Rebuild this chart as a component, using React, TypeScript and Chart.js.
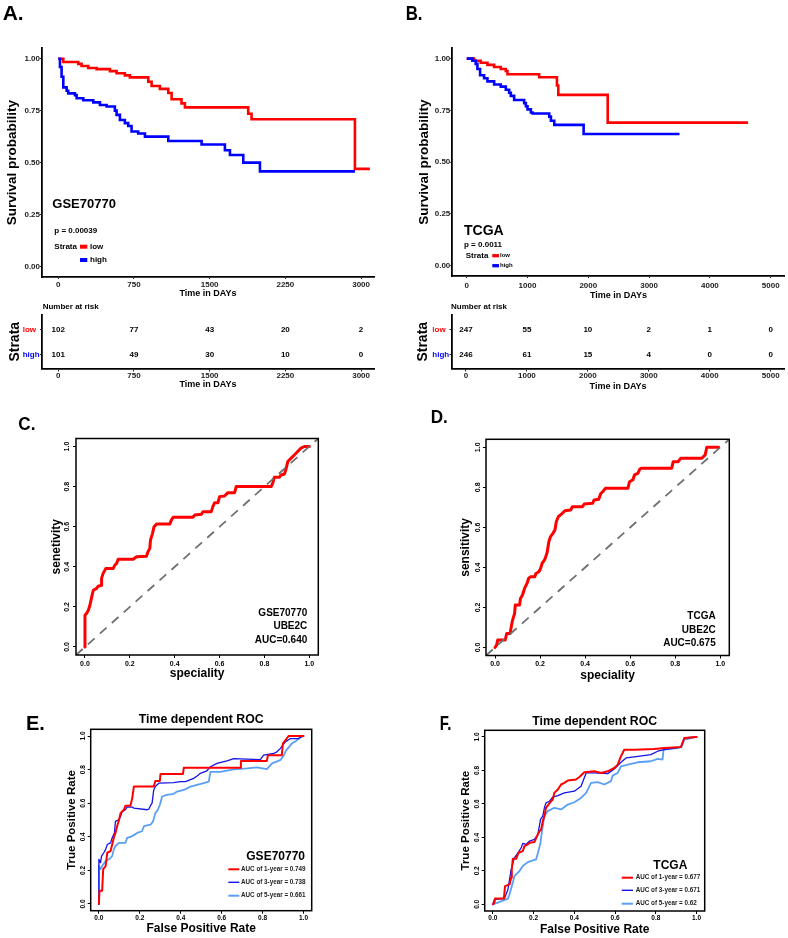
import React, { useEffect, useRef } from 'react';
import { Chart, registerables } from 'chart.js';

Chart.register(...registerables);

const PAGE_W = 788;
const PAGE_H = 938;
const FF = '"Liberation Sans", Arial, Helvetica, sans-serif';
const RED = '#FF0000';
const BLUE = '#0000FF';
const ROC_BLUE = '#1414E8';
const LIGHT_BLUE = '#5AA0F2';
const DIAG_GRAY = '#707070';

// ---------------- Panel A : GSE70770 Kaplan-Meier ----------------
const A_X_TICKS = [0, 750, 1500, 2250, 3000];
const A_LOW_T = [0, 50, 198, 231, 297, 380, 512, 578, 660, 710, 892, 925, 1007, 1090, 1123, 1221, 1255, 1882, 1915, 2939, 3087];
const A_LOW_S = [1.0, 0.984, 0.975, 0.965, 0.955, 0.95, 0.94, 0.93, 0.92, 0.91, 0.889, 0.869, 0.855, 0.835, 0.805, 0.785, 0.766, 0.735, 0.709, 0.47, 0.47];
const A_HIGH_T = [0, 17, 33, 50, 83, 99, 165, 182, 248, 347, 413, 479, 561, 578, 611, 660, 693, 726, 792, 859, 1090, 1420, 1651, 1701, 1833, 1998, 2939];
const A_HIGH_S = [1.0, 0.96, 0.913, 0.862, 0.846, 0.833, 0.825, 0.81, 0.8, 0.79, 0.777, 0.77, 0.75, 0.73, 0.705, 0.69, 0.676, 0.65, 0.64, 0.625, 0.604, 0.587, 0.56, 0.537, 0.5, 0.458, 0.458];
const A_RISK_LOW = [102, 77, 43, 20, 2];
const A_RISK_HIGH = [101, 49, 30, 10, 0];

// ---------------- Panel B : TCGA Kaplan-Meier ----------------
const B_X_TICKS = [0, 1000, 2000, 3000, 4000, 5000];
const B_LOW_T = [0, 121, 231, 341, 451, 560, 643, 670, 1192, 1484, 1506, 2319, 4627];
const B_LOW_S = [1.0, 0.99, 0.98, 0.97, 0.96, 0.95, 0.94, 0.925, 0.91, 0.87, 0.825, 0.691, 0.691];
const B_HIGH_T = [0, 93, 148, 176, 220, 286, 341, 451, 560, 643, 698, 725, 780, 945, 973, 1000, 1055, 1083, 1357, 1385, 1440, 1923, 3500];
const B_HIGH_S = [1.0, 0.99, 0.975, 0.95, 0.92, 0.905, 0.89, 0.875, 0.865, 0.85, 0.835, 0.82, 0.8, 0.785, 0.77, 0.755, 0.74, 0.735, 0.72, 0.7, 0.68, 0.636, 0.636];
const B_RISK_LOW = [247, 55, 10, 2, 1, 0];
const B_RISK_HIGH = [246, 61, 15, 4, 0, 0];

const KM_Y_TICKS = [0, 0.25, 0.5, 0.75, 1];
const ROC_TICKS = [0, 0.2, 0.4, 0.6, 0.8, 1];
const ROW_LOW = 1;
const ROW_HIGH = 0;

// ---------------- Panel C : GSE70770 ROC ----------------
const C_ROC = [[0, 0], [0, 0.158], [0.007, 0.167], [0.015, 0.183], [0.022, 0.208], [0.03, 0.25], [0.037, 0.283], [0.052, 0.292], [0.059, 0.303], [0.074, 0.308], [0.074, 0.342], [0.081, 0.367], [0.093, 0.392], [0.126, 0.392], [0.133, 0.408], [0.141, 0.417], [0.148, 0.438], [0.215, 0.438], [0.23, 0.45], [0.274, 0.453], [0.281, 0.475], [0.289, 0.492], [0.292, 0.533], [0.301, 0.567], [0.308, 0.6], [0.319, 0.613], [0.378, 0.613], [0.385, 0.633], [0.393, 0.647], [0.481, 0.647], [0.489, 0.658], [0.519, 0.662], [0.526, 0.675], [0.563, 0.675], [0.57, 0.7], [0.578, 0.72], [0.593, 0.72], [0.6, 0.75], [0.622, 0.753], [0.637, 0.77], [0.667, 0.77], [0.674, 0.8], [0.83, 0.8], [0.837, 0.817], [0.844, 0.847], [0.867, 0.847], [0.874, 0.858], [0.889, 0.863], [0.896, 0.887], [0.904, 0.925], [0.919, 0.942], [0.933, 0.958], [0.948, 0.975], [0.963, 0.992], [0.978, 1], [1, 1]];

// ---------------- Panel D : TCGA ROC ----------------
const D_ROC = [[0, 0], [0.007, 0.012], [0.012, 0.037], [0.045, 0.037], [0.052, 0.07], [0.067, 0.07], [0.072, 0.103], [0.078, 0.137], [0.087, 0.17], [0.09, 0.212], [0.109, 0.212], [0.113, 0.245], [0.122, 0.262], [0.131, 0.295], [0.142, 0.32], [0.149, 0.345], [0.157, 0.353], [0.176, 0.353], [0.182, 0.37], [0.194, 0.378], [0.201, 0.39], [0.209, 0.42], [0.221, 0.44], [0.231, 0.473], [0.239, 0.528], [0.246, 0.553], [0.257, 0.57], [0.266, 0.587], [0.272, 0.628], [0.281, 0.653], [0.296, 0.667], [0.31, 0.683], [0.336, 0.687], [0.343, 0.703], [0.388, 0.703], [0.396, 0.717], [0.433, 0.72], [0.44, 0.737], [0.46, 0.74], [0.47, 0.77], [0.478, 0.778], [0.49, 0.795], [0.59, 0.795], [0.597, 0.828], [0.612, 0.837], [0.619, 0.862], [0.634, 0.87], [0.642, 0.89], [0.649, 0.895], [0.784, 0.895], [0.791, 0.928], [0.813, 0.928], [0.824, 0.945], [0.918, 0.945], [0.933, 0.962], [0.94, 1], [0.993, 1]];

// ---------------- Panel E : GSE70770 time dependent ROC ----------------
const E_ROC_1Y = [[0, 0], [0.003, 0.079], [0.016, 0.079], [0.021, 0.207], [0.033, 0.226], [0.037, 0.266], [0.041, 0.305], [0.057, 0.315], [0.065, 0.354], [0.073, 0.394], [0.081, 0.423], [0.089, 0.463], [0.098, 0.498], [0.106, 0.541], [0.122, 0.561], [0.13, 0.585], [0.154, 0.585], [0.163, 0.63], [0.171, 0.699], [0.268, 0.699], [0.276, 0.732], [0.298, 0.732], [0.301, 0.774], [0.411, 0.774], [0.415, 0.811], [0.691, 0.811], [0.694, 0.852], [0.821, 0.852], [0.826, 0.886], [0.894, 0.886], [0.899, 0.955], [0.927, 1], [1, 1]];
const E_ROC_3Y = [[0, 0], [0, 0.266], [0.008, 0.246], [0.013, 0.285], [0.024, 0.305], [0.033, 0.325], [0.041, 0.354], [0.057, 0.364], [0.065, 0.394], [0.076, 0.423], [0.081, 0.492], [0.098, 0.502], [0.106, 0.522], [0.114, 0.551], [0.13, 0.561], [0.138, 0.577], [0.163, 0.577], [0.171, 0.571], [0.236, 0.561], [0.244, 0.565], [0.252, 0.585], [0.26, 0.6], [0.268, 0.679], [0.276, 0.699], [0.293, 0.719], [0.366, 0.722], [0.398, 0.728], [0.423, 0.728], [0.463, 0.748], [0.48, 0.762], [0.496, 0.778], [0.528, 0.793], [0.545, 0.817], [0.577, 0.837], [0.626, 0.852], [0.659, 0.866], [0.789, 0.86], [0.805, 0.886], [0.854, 0.896], [0.87, 0.906], [0.886, 0.925], [0.911, 0.965], [0.935, 0.984], [0.976, 0.984], [0.992, 0.998]];
const E_ROC_5Y = [[0, 0], [0, 0.226], [0.008, 0.207], [0.016, 0.226], [0.033, 0.256], [0.049, 0.266], [0.065, 0.285], [0.073, 0.325], [0.081, 0.344], [0.098, 0.364], [0.13, 0.364], [0.138, 0.394], [0.163, 0.404], [0.187, 0.423], [0.211, 0.433], [0.22, 0.463], [0.252, 0.472], [0.265, 0.492], [0.276, 0.541], [0.288, 0.561], [0.298, 0.591], [0.309, 0.64], [0.333, 0.65], [0.366, 0.656], [0.382, 0.669], [0.415, 0.679], [0.447, 0.699], [0.48, 0.709], [0.512, 0.719], [0.537, 0.728], [0.545, 0.787], [0.593, 0.787], [0.659, 0.801], [0.724, 0.807], [0.772, 0.813], [0.821, 0.803], [0.846, 0.837], [0.886, 0.856], [0.902, 0.88], [0.915, 0.915], [0.943, 0.955], [0.967, 0.974], [0.984, 0.994], [1, 1]];
const E_AUC = ['0.749', '0.738', '0.661'];

// ---------------- Panel F : TCGA time dependent ROC ----------------
const F_ROC_1Y = [[0, 0], [0.008, 0.01], [0.011, 0.034], [0.054, 0.034], [0.06, 0.109], [0.082, 0.119], [0.09, 0.159], [0.093, 0.209], [0.098, 0.272], [0.114, 0.272], [0.126, 0.308], [0.147, 0.318], [0.155, 0.348], [0.172, 0.358], [0.18, 0.368], [0.204, 0.372], [0.217, 0.408], [0.229, 0.437], [0.237, 0.447], [0.245, 0.497], [0.253, 0.527], [0.261, 0.577], [0.273, 0.596], [0.286, 0.616], [0.294, 0.626], [0.302, 0.666], [0.319, 0.686], [0.335, 0.716], [0.351, 0.726], [0.368, 0.74], [0.408, 0.746], [0.425, 0.761], [0.449, 0.789], [0.498, 0.795], [0.531, 0.785], [0.564, 0.795], [0.596, 0.815], [0.613, 0.835], [0.629, 0.885], [0.645, 0.924], [0.694, 0.924], [0.792, 0.928], [0.842, 0.934], [0.923, 0.94], [0.94, 0.994], [1, 1]];
const F_ROC_3Y = [[0, 0], [0.008, 0.03], [0.057, 0.034], [0.074, 0.089], [0.09, 0.209], [0.106, 0.278], [0.126, 0.312], [0.139, 0.338], [0.147, 0.364], [0.163, 0.358], [0.18, 0.378], [0.204, 0.388], [0.221, 0.417], [0.234, 0.507], [0.245, 0.527], [0.253, 0.577], [0.261, 0.606], [0.278, 0.616], [0.294, 0.64], [0.319, 0.65], [0.351, 0.666], [0.4, 0.676], [0.433, 0.706], [0.458, 0.785], [0.498, 0.785], [0.564, 0.781], [0.596, 0.809], [0.629, 0.849], [0.654, 0.875], [0.694, 0.881], [0.776, 0.895], [0.809, 0.915], [0.842, 0.924], [0.891, 0.934], [0.923, 0.94], [0.94, 0.994], [1, 1]];
const F_ROC_5Y = [[0, 0], [0.025, 0.01], [0.074, 0.034], [0.082, 0.06], [0.098, 0.129], [0.106, 0.169], [0.131, 0.199], [0.147, 0.229], [0.172, 0.252], [0.212, 0.268], [0.224, 0.318], [0.234, 0.368], [0.24, 0.427], [0.253, 0.527], [0.27, 0.557], [0.302, 0.577], [0.335, 0.567], [0.368, 0.596], [0.4, 0.61], [0.433, 0.636], [0.458, 0.666], [0.482, 0.726], [0.515, 0.73], [0.547, 0.716], [0.58, 0.736], [0.588, 0.769], [0.613, 0.785], [0.629, 0.825], [0.662, 0.835], [0.711, 0.849], [0.776, 0.855], [0.809, 0.869], [0.833, 0.865], [0.838, 0.924], [0.907, 0.934], [0.926, 0.94], [0.94, 0.984], [1, 1]];
const F_AUC = ['0.677', '0.671', '0.62'];

const ROC_MIN = -0.04;
const ROC_MAX = 1.04;
const KM_Y_MIN = -0.05;
const KM_Y_MAX = 1.05;

// ---------------- helpers ----------------
type Box = { l: number; t: number; r: number; b: number };
type Txt = { t: string; x: number; y: number; size: number; bold?: boolean; color?: string; align?: CanvasTextAlign; base?: CanvasTextBaseline; sx?: number };
type Seg = { x1: number; x2: number; y: number; color: string; w: number };

const tickFont = (size: number, bold = true) => ({ family: FF, size, weight: bold ? 'bold' : 'normal', lineHeight: 1 });
const titleFont = (size: number) => ({ family: FF, size, weight: 'bold', lineHeight: 1.2 });
const fixedTicks = (values: number[]) => (scale: any) => {
  scale.ticks = values.map((v) => ({ value: v }));
};

function decorPlugin(id: string, texts: Txt[], segs: Seg[] = []) {
  return {
    id,
    afterDraw(chart: any) {
      const ctx = chart.ctx;
      ctx.save();
      for (const s of segs) {
        ctx.beginPath();
        ctx.strokeStyle = s.color;
        ctx.lineWidth = s.w;
        ctx.lineCap = 'butt';
        ctx.moveTo(s.x1, s.y);
        ctx.lineTo(s.x2, s.y);
        ctx.stroke();
      }
      for (const it of texts) {
        ctx.save();
        ctx.font = `${it.bold === false ? 'normal' : 'bold'} ${it.size}px ${FF}`;
        ctx.fillStyle = it.color || '#000';
        ctx.textAlign = it.align || 'left';
        ctx.textBaseline = it.base || 'middle';
        ctx.translate(it.x, it.y);
        if (it.sx) ctx.scale(it.sx, 1);
        ctx.fillText(it.t, 0, 0);
        ctx.restore();
      }
      ctx.restore();
    },
  };
}

const boxPlugin = {
  id: 'rocBox',
  afterDatasetsDraw(chart: any) {
    const { ctx, chartArea: a } = chart;
    ctx.save();
    ctx.strokeStyle = '#000';
    ctx.lineWidth = 1.5;
    ctx.strokeRect(a.left, a.top, a.right - a.left, a.bottom - a.top);
    ctx.restore();
  },
};

const riskPlugin = {
  id: 'riskNumbers',
  afterDatasetsDraw(chart: any) {
    const ctx = chart.ctx;
    ctx.save();
    ctx.font = `bold 8px ${FF}`;
    ctx.fillStyle = '#000';
    ctx.textAlign = 'center';
    ctx.textBaseline = 'middle';
    chart.data.datasets.forEach((ds: any, i: number) => {
      const meta = chart.getDatasetMeta(i);
      meta.data.forEach((pt: any, j: number) => {
        ctx.fillText(String(ds.counts[j]), pt.x, pt.y);
      });
    });
    ctx.restore();
  },
};

const baseOptions = () => ({
  responsive: false,
  animation: false,
  events: [],
  plugins: { legend: { display: false }, tooltip: { enabled: false }, title: { display: false } },
});

const pts = (t: number[], s: number[]) => t.map((v, i) => ({ x: v, y: s[i] }));
const pairPts = (arr: number[][]) => arr.map((p) => ({ x: p[0], y: p[1] }));

// ---------------- Kaplan-Meier ----------------
function buildKm(p: any) {
  const Y_TITLE = 13.5;
  const X_TITLE = 9;
  const TICK = 8;
  const TL = 2;
  const yW = p.box.l - (p.yTitleCX - (Y_TITLE * 1.2) / 2);
  const xH = p.xTitleCY + (X_TITLE * 1.2) / 2 - p.box.b;
  const xPad = p.xTickCY - p.box.b - TL - TICK / 2;
  return {
    type: 'line',
    data: {
      datasets: [
        { data: pts(p.highT, p.highS), borderColor: BLUE, borderWidth: 2.6, stepped: true, pointRadius: 0, fill: false },
        { data: pts(p.lowT, p.lowS), borderColor: RED, borderWidth: 2.6, stepped: true, pointRadius: 0, fill: false },
      ],
    },
    options: {
      ...baseOptions(),
      layout: { padding: { left: p.box.l - yW, top: p.box.t, right: PAGE_W - p.box.r, bottom: PAGE_H - p.box.b - xH } },
      scales: {
        x: {
          type: 'linear',
          min: p.xMin,
          max: p.xMax,
          afterBuildTicks: fixedTicks(p.xTicks),
          afterFit: (s: any) => { s.height = xH; },
          ticks: { callback: (v: any) => String(v), font: tickFont(TICK), color: '#222', padding: xPad, autoSkip: false, maxRotation: 0 },
          grid: { display: true, drawOnChartArea: false, drawTicks: true, tickLength: TL, color: '#222', tickColor: '#222', tickWidth: 1 },
          border: { display: true, color: '#000', width: 1.8 },
          title: { display: true, text: 'Time in DAYs', font: titleFont(X_TITLE), color: '#000', padding: 0 },
        },
        y: {
          type: 'linear',
          min: KM_Y_MIN,
          max: KM_Y_MAX,
          afterBuildTicks: fixedTicks(KM_Y_TICKS),
          afterFit: (s: any) => { s.width = yW; },
          ticks: { callback: (v: any) => Number(v).toFixed(2), font: tickFont(TICK), color: '#222', padding: 0, autoSkip: false },
          grid: { display: true, drawOnChartArea: false, drawTicks: true, tickLength: TL, color: '#222', tickColor: '#222', tickWidth: 1 },
          border: { display: true, color: '#000', width: 1.8 },
          title: { display: true, text: 'Survival probability', font: titleFont(Y_TITLE), color: '#000', padding: 0 },
        },
      },
    },
    plugins: [decorPlugin(p.id, p.texts, p.segs)],
  };
}

// ---------------- risk table ----------------
function buildRisk(p: any) {
  const STRATA = 14;
  const X_TITLE = 9;
  const TICK = 8;
  const TL = 3;
  const yW = p.box.l - p.labelLeft;
  const strataPad = p.strataCX - p.labelLeft - (STRATA * 1.2) / 2;
  const xH = p.xTitleCY + (X_TITLE * 1.2) / 2 - p.box.b;
  const xPad = p.xTickCY - p.box.b - TL - TICK / 2;
  return {
    type: 'scatter',
    data: {
      datasets: [
        { data: p.times.map((t: number) => ({ x: t, y: ROW_LOW })), counts: p.low, pointRadius: 0 },
        { data: p.times.map((t: number) => ({ x: t, y: ROW_HIGH })), counts: p.high, pointRadius: 0 },
      ],
    },
    options: {
      ...baseOptions(),
      layout: { padding: { left: p.box.l - yW, top: p.box.t, right: PAGE_W - p.box.r, bottom: PAGE_H - p.box.b - xH } },
      scales: {
        x: {
          type: 'linear',
          min: p.xMin,
          max: p.xMax,
          afterBuildTicks: fixedTicks(p.times),
          afterFit: (s: any) => { s.height = xH; },
          ticks: { callback: (v: any) => String(v), font: tickFont(TICK), color: '#222', padding: xPad, autoSkip: false, maxRotation: 0 },
          grid: { display: true, drawOnChartArea: false, drawTicks: true, tickLength: TL, color: '#222', tickColor: '#222', tickWidth: 1 },
          border: { display: true, color: '#000', width: 1.8 },
          title: { display: true, text: 'Time in DAYs', font: titleFont(X_TITLE), color: '#000', padding: 0 },
        },
        y: {
          type: 'linear',
          min: -0.56,
          max: 1.58,
          afterBuildTicks: fixedTicks([ROW_HIGH, ROW_LOW]),
          afterFit: (s: any) => { s.width = yW; },
          ticks: {
            callback: (v: any) => (v === ROW_LOW ? 'low' : 'high'),
            font: tickFont(8),
            color: (c: any) => (c.tick && c.tick.value === ROW_LOW ? RED : BLUE),
            crossAlign: 'far',
            padding: 0,
            autoSkip: false,
          },
          grid: { display: true, drawOnChartArea: false, drawTicks: true, tickLength: 2, color: '#222', tickColor: '#222', tickWidth: 1 },
          border: { display: true, color: '#000', width: 1.8 },
          title: { display: true, text: 'Strata', font: titleFont(STRATA), color: '#000', padding: { top: strataPad, bottom: 0 } },
        },
      },
    },
    plugins: [riskPlugin, decorPlugin(p.id, p.texts)],
  };
}

// ---------------- ROC ----------------
function buildRoc(p: any) {
  const TL = 3;
  const yW = p.box.l - (p.yTitleCX - (p.yTitleSize * 1.2) / 2);
  const xH = p.xTitleCY + (p.xTitleSize * 1.2) / 2 - p.box.b;
  const xPad = p.xTickCY - p.box.b - TL - p.tick / 2;
  const widest = p.tick * 1.39;
  const yPad = p.box.l - TL - widest / 2 - p.yTickCX;
  let padTop = p.box.t;
  let title: any = { display: false };
  if (p.main) {
    const lh = p.main.size * 1.2;
    padTop = p.main.cy - lh / 2;
    title = {
      display: true,
      text: p.main.text,
      font: { family: FF, size: p.main.size, weight: 'bold', lineHeight: 1.2 },
      color: '#000',
      fullSize: false,
      padding: { top: 0, bottom: p.box.t - padTop - lh },
    };
  }
  const datasets: any[] = [];
  if (p.diag) {
    datasets.push({
      data: [{ x: ROC_MIN, y: ROC_MIN }, { x: ROC_MAX, y: ROC_MAX }],
      borderColor: DIAG_GRAY,
      borderWidth: 1.8,
      borderDash: [9, 7],
      pointRadius: 0,
      fill: false,
    });
  }
  for (const s of p.series) {
    datasets.push({
      data: pairPts(s.pts),
      borderColor: s.color,
      borderWidth: s.width,
      pointRadius: 0,
      fill: false,
      tension: 0,
      borderJoinStyle: 'round',
      borderCapStyle: 'round',
    });
  }
  const base = baseOptions();
  return {
    type: 'line',
    data: { datasets },
    options: {
      ...base,
      plugins: { ...base.plugins, title },
      layout: { padding: { left: p.box.l - yW, top: padTop, right: PAGE_W - p.box.r, bottom: PAGE_H - p.box.b - xH } },
      scales: {
        x: {
          type: 'linear',
          min: ROC_MIN,
          max: ROC_MAX,
          afterBuildTicks: fixedTicks(ROC_TICKS),
          afterFit: (s: any) => { s.height = xH; },
          ticks: { callback: (v: any) => Number(v).toFixed(1), font: tickFont(p.tick), color: '#000', padding: xPad, autoSkip: false, maxRotation: 0 },
          grid: { display: true, drawOnChartArea: false, drawTicks: true, tickLength: TL, color: '#000', tickColor: '#000', tickWidth: 1 },
          border: { display: false },
          title: { display: true, text: p.xTitle, font: titleFont(p.xTitleSize), color: '#000', padding: 0 },
        },
        y: {
          type: 'linear',
          min: ROC_MIN,
          max: ROC_MAX,
          afterBuildTicks: fixedTicks(ROC_TICKS),
          afterFit: (s: any) => { s.width = yW; },
          ticks: {
            callback: (v: any) => Number(v).toFixed(1),
            font: tickFont(p.tick),
            color: '#000',
            padding: yPad,
            minRotation: 90,
            maxRotation: 90,
            crossAlign: 'center',
            autoSkip: false,
          },
          grid: { display: true, drawOnChartArea: false, drawTicks: true, tickLength: TL, color: '#000', tickColor: '#000', tickWidth: 1 },
          border: { display: false },
          title: { display: true, text: p.yTitle, font: titleFont(p.yTitleSize), color: '#000', padding: 0 },
        },
      },
    },
    plugins: [boxPlugin, decorPlugin(p.id, p.texts, p.segs || [])],
  };
}

// ---------------- panel specs ----------------
const buildA = () =>
  buildKm({
    id: 'decA',
    box: { l: 42, t: 48.3, r: 374, b: 277 },
    xMin: -161,
    xMax: 3128,
    xTicks: A_X_TICKS,
    lowT: A_LOW_T,
    lowS: A_LOW_S,
    highT: A_HIGH_T,
    highS: A_HIGH_S,
    yTitleCX: 12,
    xTickCY: 284.5,
    xTitleCY: 293.5,
    texts: [
      { t: 'A.', x: 2.7, y: 20, size: 21, base: 'alphabetic' },
      { t: 'GSE70770', x: 52.3, y: 204, size: 13 },
      { t: 'p = 0.00039', x: 54.3, y: 231, size: 8 },
      { t: 'Strata', x: 54.3, y: 246.7, size: 8 },
      { t: 'low', x: 90, y: 246.7, size: 8 },
      { t: 'high', x: 90, y: 260, size: 8 },
    ],
    segs: [
      { x1: 80, x2: 87.3, y: 246.7, color: RED, w: 4 },
      { x1: 80, x2: 87.3, y: 260, color: BLUE, w: 4 },
    ],
  });

const buildB = () =>
  buildKm({
    id: 'decB',
    box: { l: 452.3, t: 48.3, r: 784.7, b: 276 },
    xMin: -237,
    xMax: 5230,
    xTicks: B_X_TICKS,
    lowT: B_LOW_T,
    lowS: B_LOW_S,
    highT: B_HIGH_T,
    highS: B_HIGH_S,
    yTitleCX: 424,
    xTickCY: 285.5,
    xTitleCY: 296,
    texts: [
      { t: 'B.', x: 405.7, y: 20, size: 21, base: 'alphabetic', sx: 0.8 },
      { t: 'TCGA', x: 464, y: 230.7, size: 14 },
      { t: 'p = 0.0011', x: 464, y: 245, size: 8 },
      { t: 'Strata', x: 465.7, y: 255.7, size: 8 },
      { t: 'low', x: 500, y: 255.7, size: 6 },
      { t: 'high', x: 500, y: 265.7, size: 6 },
    ],
    segs: [
      { x1: 492.3, x2: 499, y: 255.7, color: RED, w: 3.3 },
      { x1: 492.3, x2: 499, y: 265.7, color: BLUE, w: 3.3 },
    ],
  });

const buildRiskA = () =>
  buildRisk({
    id: 'decRiskA',
    box: { l: 42, t: 315, r: 374, b: 368.5 },
    xMin: -161,
    xMax: 3128,
    times: A_X_TICKS,
    low: A_RISK_LOW,
    high: A_RISK_HIGH,
    labelLeft: 22.7,
    strataCX: 15,
    xTickCY: 375.3,
    xTitleCY: 384.3,
    texts: [{ t: 'Number at risk', x: 42.7, y: 307, size: 8 }],
  });

const buildRiskB = () =>
  buildRisk({
    id: 'decRiskB',
    box: { l: 451.5, t: 315, r: 784.7, b: 368.5 },
    xMin: -237,
    xMax: 5230,
    times: B_X_TICKS,
    low: B_RISK_LOW,
    high: B_RISK_HIGH,
    labelLeft: 432.3,
    strataCX: 423.3,
    xTickCY: 376,
    xTitleCY: 386.7,
    texts: [{ t: 'Number at risk', x: 451, y: 306.7, size: 8 }],
  });

const buildC = () =>
  buildRoc({
    id: 'decC',
    box: { l: 76, t: 438.5, r: 318.3, b: 655 },
    series: [{ pts: C_ROC, color: RED, width: 3 }],
    diag: true,
    yTitle: 'senetivity',
    xTitle: 'speciality',
    yTitleSize: 12,
    xTitleSize: 12,
    yTitleCX: 56.7,
    xTitleCY: 674,
    tick: 7,
    yTickCX: 67,
    xTickCY: 664,
    texts: [
      { t: 'C.', x: 18.3, y: 430, size: 19, base: 'alphabetic', sx: 0.9 },
      { t: 'GSE70770', x: 307.3, y: 613.3, size: 10, align: 'right' },
      { t: 'UBE2C', x: 307.3, y: 626.7, size: 10, align: 'right' },
      { t: 'AUC=0.640', x: 307.3, y: 640, size: 10, align: 'right' },
    ],
  });

const buildD = () =>
  buildRoc({
    id: 'decD',
    box: { l: 486, t: 439.3, r: 729.3, b: 655.5 },
    series: [{ pts: D_ROC, color: RED, width: 3 }],
    diag: true,
    yTitle: 'sensitivity',
    xTitle: 'speciality',
    yTitleSize: 12,
    xTitleSize: 12,
    yTitleCX: 465.7,
    xTitleCY: 676,
    tick: 7,
    yTickCX: 478.3,
    xTickCY: 664,
    texts: [
      { t: 'D.', x: 430.7, y: 423.3, size: 19, base: 'alphabetic', sx: 0.9 },
      { t: 'TCGA', x: 715.7, y: 616.7, size: 10, align: 'right' },
      { t: 'UBE2C', x: 715.7, y: 630, size: 10, align: 'right' },
      { t: 'AUC=0.675', x: 715.7, y: 643.3, size: 10, align: 'right' },
    ],
  });

const legendTexts = (x: number, ys: number[], aucs: string[]): Txt[] =>
  [1, 3, 5].map((yr, i) => ({ t: `AUC of ${yr}-year = ${aucs[i]}`, x, y: ys[i], size: 6.3, color: '#222' }));
const legendSegs = (x1: number, x2: number, ys: number[]): Seg[] => [
  { x1, x2, y: ys[0], color: RED, w: 2 },
  { x1, x2, y: ys[1], color: ROC_BLUE, w: 1.4 },
  { x1, x2, y: ys[2], color: LIGHT_BLUE, w: 2 },
];

const E_LEG_Y = [869.3, 882.3, 895.7];
const F_LEG_Y = [877.7, 890.3, 903.7];

const buildE = () =>
  buildRoc({
    id: 'decE',
    box: { l: 90.7, t: 729.3, r: 311.7, b: 910.7 },
    series: [
      { pts: E_ROC_1Y, color: RED, width: 2 },
      { pts: E_ROC_3Y, color: ROC_BLUE, width: 1.3 },
      { pts: E_ROC_5Y, color: LIGHT_BLUE, width: 1.8 },
    ],
    diag: false,
    yTitle: 'True Positive Rate',
    xTitle: 'False Positive Rate',
    yTitleSize: 11.5,
    xTitleSize: 12,
    yTitleCX: 71.7,
    xTitleCY: 928.3,
    tick: 6.5,
    yTickCX: 83.3,
    xTickCY: 918.3,
    main: { text: 'Time dependent ROC', cy: 720, size: 12.3 },
    texts: [
      { t: 'E.', x: 26, y: 730, size: 20, base: 'alphabetic' },
      { t: 'GSE70770', x: 305, y: 856.7, size: 12, align: 'right' },
      ...legendTexts(241, E_LEG_Y, E_AUC),
    ],
    segs: legendSegs(228.3, 239.3, E_LEG_Y),
  });

const buildF = () =>
  buildRoc({
    id: 'decF',
    box: { l: 484.7, t: 730.3, r: 704.7, b: 911 },
    series: [
      { pts: F_ROC_1Y, color: RED, width: 2 },
      { pts: F_ROC_3Y, color: ROC_BLUE, width: 1.3 },
      { pts: F_ROC_5Y, color: LIGHT_BLUE, width: 1.8 },
    ],
    diag: false,
    yTitle: 'True Positive Rate',
    xTitle: 'False Positive Rate',
    yTitleSize: 11.5,
    xTitleSize: 12,
    yTitleCX: 465.7,
    xTitleCY: 929.3,
    tick: 6.5,
    yTickCX: 477.3,
    xTickCY: 918.3,
    main: { text: 'Time dependent ROC', cy: 721.7, size: 12.3 },
    texts: [
      { t: 'F.', x: 439.7, y: 730, size: 20, base: 'alphabetic', sx: 0.75 },
      { t: 'TCGA', x: 687.3, y: 866, size: 12, align: 'right' },
      ...legendTexts(635.7, F_LEG_Y, F_AUC),
    ],
    segs: legendSegs(621.7, 633, F_LEG_Y),
  });

function ChartCanvas({ build }: { build: () => any }) {
  const ref = useRef<HTMLCanvasElement | null>(null);
  useEffect(() => {
    if (!ref.current) return;
    const chart = new Chart(ref.current, build());
    return () => chart.destroy();
  }, [build]);
  return <canvas ref={ref} width={PAGE_W} height={PAGE_H} style={{ position: 'absolute', left: 0, top: 0, width: PAGE_W, height: PAGE_H }} />;
}

const BUILDERS = [buildA, buildB, buildRiskA, buildRiskB, buildC, buildD, buildE, buildF];

export default function App() {
  return (
    <div style={{ position: 'absolute', left: 0, top: 0, width: PAGE_W, height: PAGE_H, background: '#fff', overflow: 'hidden' }}>
      {BUILDERS.map((b, i) => (
        <ChartCanvas key={i} build={b} />
      ))}
    </div>
  );
}
